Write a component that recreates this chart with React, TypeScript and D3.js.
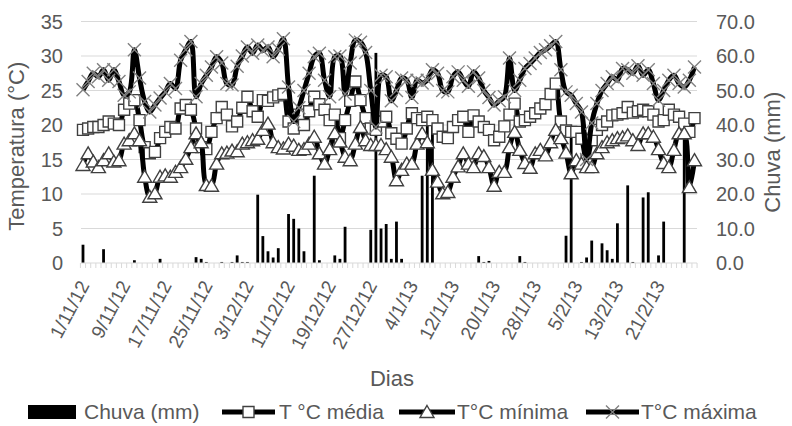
import React, { useEffect, useRef } from "react";
import * as d3 from "d3";

// one value per day, 1/11/12 .. 28/2/13
const dias = d3.timeDay.range(new Date(2012, 10, 1), new Date(2013, 2, 1))
const tickLabels = ["1/11/12", "9/11/12", "17/11/12", "25/11/12", "3/12/12", "11/12/12", "19/12/12", "27/12/12",
    "4/1/13", "12/1/13", "20/1/13", "28/1/13", "5/2/13", "13/2/13", "21/2/13"]

const chuva = [
    5.3, 0, 0, 0, 4.0, 0, 0, 0, 0, 0,
    0.8, 0, 0, 0, 0, 1.2, 0, 0, 0, 0,
    0, 0, 1.7, 1.2, 0.3, 0, 0, 0.3, 0, 0.3,
    2.2, 0.3, 0.3, 0, 19.8, 7.8, 3.4, 1.6, 4.3, 0,
    14.2, 12.8, 10.0, 3.4, 0, 25.3, 0.8, 0, 0, 2.2,
    1.2, 10.5, 0, 0, 0, 0, 9.6, 60.9, 10.0, 11.3,
    1.2, 12.0, 1.2, 0, 0, 0, 25.3, 40.0, 41.0, 0,
    0, 0, 0, 0, 0, 0, 0, 2.0, 0.3, 0.6,
    0, 0, 0, 0, 0, 2.0, 0.3, 0, 0, 0,
    0, 0, 0, 0, 7.9, 37.0, 0, 0.3, 1.6, 6.5,
    0, 5.7, 3.7, 1.2, 11.5, 0, 22.5, 0.3, 0, 19.0,
    20.5, 0, 2.2, 12.0, 0, 0, 0, 38.0, 0, 0
]

const tMedia = [
    19.3, 19.5, 19.7, 19.7, 20.0, 20.5, 20.2, 20.0, 22.2, 23.1,
    23.6, 20.7, 16.8, 15.9, 16.1, 18.1, 19.0, 19.7, 19.5, 22.4,
    22.9, 22.2, 19.5, 16.8, 16.5, 19.0, 21.0, 22.6, 21.5, 19.8,
    20.5, 22.5, 24.1, 22.0, 21.2, 23.6, 23.5, 24.0, 24.3, 24.5,
    20.5, 19.5, 21.5, 20.0, 22.0, 24.1, 23.0, 22.2, 20.7, 21.5,
    18.1, 20.7, 23.5, 26.3, 23.6, 21.0, 19.5, 19.3, 20.5, 21.2,
    18.8, 18.0, 17.3, 19.5, 21.7, 21.0, 20.7, 21.2, 20.7, 19.5,
    18.3, 18.1, 19.7, 20.7, 21.2, 19.0, 21.4, 20.5, 19.7, 19.3,
    17.8, 18.3, 19.8, 21.5, 23.1, 20.5, 20.7, 21.2, 21.7, 22.4,
    23.0, 24.5, 26.0, 20.5, 19.2, 19.0, 19.0, 18.0, 14.9, 17.8,
    19.3, 20.0, 20.5, 21.4, 21.5, 21.7, 22.6, 21.8, 22.0, 22.2,
    22.0, 21.5, 20.5, 20.7, 22.2, 21.5, 21.2, 20.2, 19.0, 21.0
]

const tMinima = [
    14.2, 15.9, 14.7, 13.9, 14.9, 15.9, 14.7, 14.9, 17.3, 17.8,
    18.8, 17.8, 12.5, 9.6, 10.1, 12.5, 12.7, 12.5, 13.2, 13.9,
    15.1, 16.8, 18.8, 17.5, 11.3, 11.2, 14.4, 15.9, 16.0, 16.3,
    16.2, 17.3, 17.5, 17.8, 18.0, 19.3, 20.2, 17.5, 16.8, 16.6,
    17.3, 17.0, 16.4, 16.5, 17.3, 18.3, 15.9, 14.4, 16.5, 18.8,
    17.6, 15.4, 14.9, 17.3, 19.7, 17.8, 17.1, 17.1, 17.1, 16.5,
    15.4, 12.0, 13.5, 14.4, 14.4, 17.3, 18.8, 17.5, 13.5, 11.8,
    10.1, 10.3, 12.5, 14.0, 15.9, 14.4, 13.9, 15.9, 15.5, 13.9,
    11.2, 13.2, 13.2, 16.8, 19.0, 16.4, 14.5, 13.8, 15.9, 16.4,
    15.6, 17.5, 19.3, 18.1, 16.0, 13.0, 14.9, 14.4, 13.9, 13.9,
    15.9, 16.8, 17.5, 17.8, 18.1, 18.2, 18.5, 17.8, 17.1, 18.8,
    18.8, 18.3, 16.5, 14.5, 13.9, 16.4, 18.8, 18.8, 11.0, 14.9
]

const tMaxima = [
    25.1, 26.3, 27.5, 27.0, 28.0, 26.5, 28.0, 26.3, 24.3, 24.8,
    30.9, 26.8, 23.4, 21.9, 22.9, 23.9, 24.8, 26.0, 25.3, 29.4,
    30.9, 32.1, 24.1, 26.0, 27.2, 28.4, 29.9, 29.0, 26.0, 25.8,
    28.5, 30.0, 31.3, 30.4, 31.6, 30.8, 31.3, 29.9, 31.0, 32.5,
    25.5, 20.5, 22.5, 25.0, 27.5, 29.9, 30.4, 26.5, 24.1, 29.9,
    30.0, 24.5, 29.0, 32.3, 32.0, 30.5, 25.0, 19.7, 27.2, 27.0,
    23.5, 25.0, 26.8, 26.5, 24.0, 26.5, 26.1, 26.5, 28.0, 27.5,
    25.0, 24.8, 27.0, 27.7, 26.5, 25.6, 27.7, 26.8, 25.0, 24.0,
    22.9, 23.5, 24.1, 29.7, 25.0, 26.5, 28.2, 28.9, 29.7, 30.5,
    30.9, 31.5, 32.1, 28.0, 24.8, 24.3, 23.1, 21.9, 15.0, 20.3,
    23.1, 25.0, 26.0, 27.0, 26.5, 28.2, 28.0, 27.5, 28.6, 27.2,
    28.0, 26.0, 23.6, 25.0, 26.5, 27.2, 26.0, 25.5, 26.5, 28.4
]

const W = 792, H = 426
const left = 81, right = 697, top = 21.5, bottom = 263
const grey = "#595959"
const font = "'Liberation Sans', Arial, sans-serif"

const squarePath = "M-5.5,-5.5H5.5V5.5H-5.5Z"
const trianglePath = "M0,-6.5L7,5.5H-7Z"
const crossPath = "M-6.5,-6.5L6.5,6.5M-6.5,6.5L6.5,-6.5"

export default function App() {
    const svgRef = useRef<SVGSVGElement>(null)

    useEffect(() => {
        const svg = d3.select(svgRef.current)
        svg.selectAll("*").remove()

        const x = d3.scaleLinear().domain([0, dias.length - 1]).range([83, 694.5])
        const step = x(1) - x(0)
        const y = d3.scaleLinear().domain([0, 35]).range([bottom, top])
        const y2 = d3.scaleLinear().domain([0, 70]).range([bottom, top])

        // grid
        svg.append("g").selectAll("line").data(d3.range(5, 40, 5)).join("line")
            .attr("x1", left).attr("x2", right)
            .attr("y1", d => y(d)).attr("y2", d => y(d))
            .attr("stroke", "#d9d9d9").attr("stroke-width", 1)

        // left axis labels
        svg.append("g").selectAll("text").data(d3.range(0, 40, 5)).join("text")
            .attr("x", 63).attr("y", d => y(d)).attr("dy", "0.35em")
            .attr("text-anchor", "end").attr("fill", grey)
            .style("font", `20px ${font}`)
            .text(d => d)

        // right axis labels
        svg.append("g").selectAll("text").data(d3.range(0, 80, 10)).join("text")
            .attr("x", 716).attr("y", d => y2(d)).attr("dy", "0.35em")
            .attr("fill", grey)
            .style("font", `20px ${font}`)
            .text(d => d3.format(".1f")(d))

        // rain bars
        svg.append("g").selectAll("rect").data(chuva).join("rect")
            .attr("x", (d, i) => x(i) - 1.4).attr("width", 2.8)
            .attr("y", d => y2(d)).attr("height", d => bottom - y2(d))
            .attr("fill", "#000")

        // x axis line + day ticks
        svg.append("line").attr("x1", left).attr("x2", right).attr("y1", bottom).attr("y2", bottom)
            .attr("stroke", "#d9d9d9").attr("stroke-width", 1)
        svg.append("g").selectAll("line").data(d3.range(0, dias.length + 1)).join("line")
            .attr("x1", i => x(i) - step / 2).attr("x2", i => x(i) - step / 2)
            .attr("y1", bottom).attr("y2", bottom + 5)
            .attr("stroke", "#d9d9d9").attr("stroke-width", 1)

        // x labels every 8 days
        const fmt = d3.timeFormat("%-d/%-m/%y")
        const labelIdx = dias.map((d, i) => i).filter(i => tickLabels.includes(fmt(dias[i])))
        svg.append("g").selectAll("text").data(labelIdx).join("text")
            .attr("transform", i => `translate(${x(i) + 1},${bottom + 19}) rotate(-62)`)
            .attr("text-anchor", "end").attr("dy", "0.35em")
            .attr("fill", grey)
            .style("font", `19px ${font}`)
            .text(i => fmt(dias[i]))

        const line = d3.line<number>()
            .x((d, i) => x(i))
            .y(d => y(d))
            .curve(d3.curveCatmullRom.alpha(0.5))

        const series = [
            { data: tMedia, marker: squarePath, fill: "#fff", stroke: "#404040" },
            { data: tMinima, marker: trianglePath, fill: "#fff", stroke: "#404040" },
            { data: tMaxima, marker: crossPath, fill: "none", stroke: "#808080" },
        ]
        series.forEach(s => {
            const g = svg.append("g")
            g.append("path").attr("d", line(s.data))
                .attr("fill", "none").attr("stroke", "#000").attr("stroke-width", 5)
                .attr("stroke-linejoin", "round")
            g.selectAll("path.m").data(s.data).join("path").attr("class", "m")
                .attr("d", s.marker)
                .attr("transform", (d, i) => `translate(${x(i)},${y(d)})`)
                .attr("fill", s.fill).attr("stroke", s.stroke).attr("stroke-width", 1.4)
        })

        // axis titles
        svg.append("text")
            .attr("transform", `translate(24,${(top + bottom) / 2 + 4}) rotate(-90)`)
            .attr("text-anchor", "middle").attr("fill", grey)
            .style("font", `22px ${font}`)
            .text("Temperatura (°C)")
        svg.append("text")
            .attr("transform", `translate(780,${(top + bottom) / 2 + 10}) rotate(-90)`)
            .attr("text-anchor", "middle").attr("fill", grey)
            .style("font", `22px ${font}`)
            .text("Chuva (mm)")
        svg.append("text")
            .attr("x", (left + right) / 2 + 3).attr("y", 386)
            .attr("text-anchor", "middle").attr("fill", grey)
            .style("font", `22px ${font}`)
            .text("Dias")

        // legend
        const ly = 412
        const lg = svg.append("g").style("font", `21px ${font}`).attr("fill", grey)
        lg.append("rect").attr("x", 28).attr("y", ly - 7).attr("width", 48).attr("height", 14).attr("fill", "#000")
        lg.append("text").attr("x", 84).attr("y", ly).attr("dy", "0.35em").text("Chuva (mm)")
        const items = [
            { x0: 222, x1: 275, tx: 279, label: "T °C média", s: series[0] },
            { x0: 399, x1: 455, tx: 457, label: "T°C mínima", s: series[1] },
            { x0: 586, x1: 639, tx: 641, label: "T°C máxima", s: series[2] },
        ]
        items.forEach(it => {
            lg.append("line").attr("x1", it.x0).attr("x2", it.x1).attr("y1", ly).attr("y2", ly)
                .attr("stroke", "#000").attr("stroke-width", 5)
            lg.append("path").attr("d", it.s.marker)
                .attr("transform", `translate(${(it.x0 + it.x1) / 2},${ly})`)
                .attr("fill", it.s.fill).attr("stroke", it.s.stroke).attr("stroke-width", 1.4)
            lg.append("text").attr("x", it.tx).attr("y", ly).attr("dy", "0.35em").text(it.label)
        })
    }, [])

    return (
        <svg ref={svgRef} width={W} height={H} viewBox={`0 0 ${W} ${H}`}
            style={{ position: "absolute", left: 0, top: 0, background: "#fff" }} />
    )
}
